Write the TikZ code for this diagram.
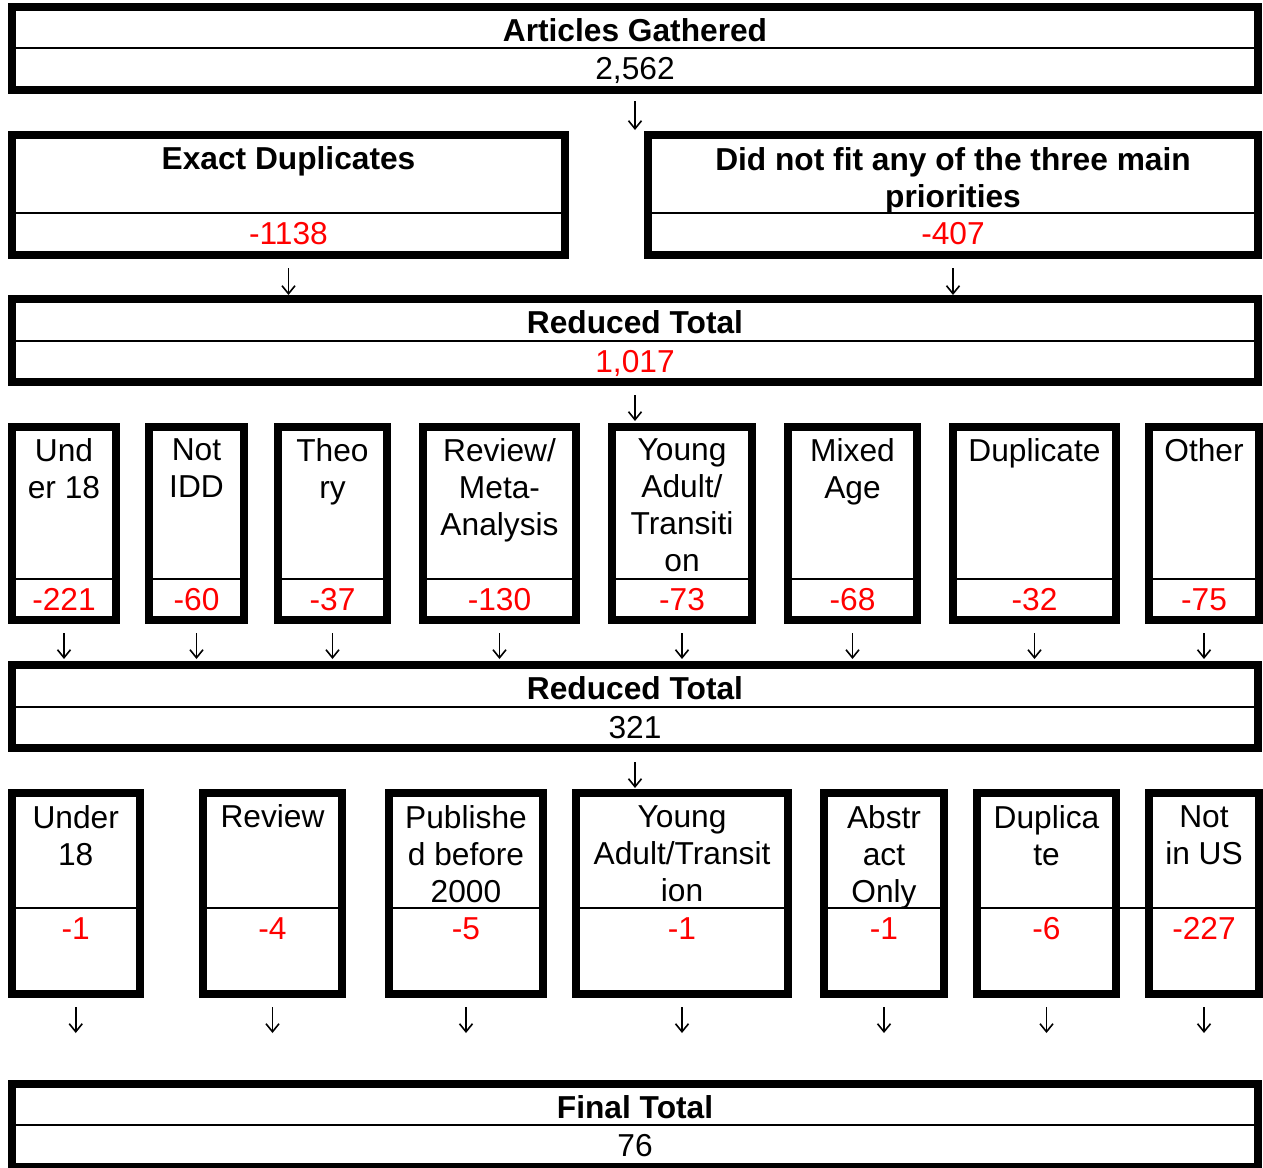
\documentclass[tikz,border=0pt]{standalone}
\usepackage{fontspec}
\setmainfont{Liberation Sans}
\usetikzlibrary{arrows.meta}
\tikzset{
    stage/.style ={
        shape=rectangle,
        draw=black,
        line width=8pt,
        inner sep=0pt
    },
    divide/.style ={
        draw=black,
        line width=1.8pt
    },
    head/.style ={
        anchor=north,
        yshift=25.9pt,
        align=center,
        inner sep=0pt,
        execute at begin node=\strut,
        font=\fontsize{31.7}{37}\selectfont
    },
    multi/.style ={
        head,
        yshift=-3.5pt
    },
    title/.style ={
        head,
        font=\fontsize{31.7}{37}\selectfont\bfseries
    },
    tally/.style ={
        anchor=base,
        inner sep=0pt,
        font=\fontsize{31.7}{37}\selectfont
    },
    loss/.style ={
        tally,
        text=red
    },
    flow/.style ={
        draw=black,
        line width=1.6pt,
        -{Straight Barb[length=8pt,width=13pt]}
    }
}
\begin{document}
\begin{tikzpicture}[x=1pt,y=-1pt]
    \useasboundingbox (0,0) rectangle (1263,1167);
    % totals and first cuts
    \node[stage, minimum width=1246, minimum height=83] (gath) at (635,48.5) {};
    \draw[divide] (gath.west |- 0,48) -- (gath.east |- 0,48);
    \node[title] at (635,41.5) {Articles Gathered};
    \node[tally] at (635,79.5) {2,562};

    \node[stage, minimum width=553, minimum height=120] (dup) at (288.5,195) {};
    \draw[divide] (dup.west |- 0,213) -- (dup.east |- 0,213);
    \node[title] at (288.5,169.5) {Exact Duplicates};
    \node[loss] at (288.5,244.5) {-1138};

    \node[stage, minimum width=610, minimum height=120] (prio) at (953,195) {};
    \draw[divide] (prio.west |- 0,213) -- (prio.east |- 0,213);
    \node[title, yshift=-3.5pt] at (953,169.5) {Did not fit any of the three main\\priorities};
    \node[loss] at (953,244.5) {-407};

    \node[stage, minimum width=1246, minimum height=83] (red1) at (635,340.5) {};
    \draw[divide] (red1.west |- 0,341) -- (red1.east |- 0,341);
    \node[title] at (635,333.5) {Reduced Total};
    \node[loss] at (635,372.5) {1,017};

    \draw[flow] ([yshift=-7pt]gath.south) -- ++(0,29);
    \draw[flow] ([yshift=-9pt]dup.south) -- (dup.south |- red1.north);
    \draw[flow] ([yshift=-9pt]prio.south) -- (prio.south |- red1.north);
    \draw[flow] ([yshift=-9pt]red1.south) -- ++(0,26);

    % second screening
    \foreach \n/\a/\b/\s/\t/\c in {u18/12/116/multi/{Und\\er 18}/-221, idd/149/244/multi/{Not\\IDD}/-60,
        theo/278/387/multi/{Theo\\ry}/-37, meta/423/576/multi/{Review/\\Meta-\\Analysis}/-130,
        ya/612/752/multi/{Young\\Adult/\\Transiti\\on}/-73, mixed/788/917/multi/{Mixed\\Age}/-68,
        dupl/953/1116/head/{Duplicate}/-32, other/1149/1259/head/{Other}/-75}{
        \node[stage, minimum width=\b-\a, minimum height=193] (\n) at ({(\a+\b)/2},523.5) {};
        \draw[divide] (\n.west |- 0,579) -- (\n.east |- 0,579);
        \node[\s] at ({(\a+\b)/2},461) {\t};
        \node[loss] at ({(\a+\b)/2},610.5) {\c};
        \draw[flow] ([yshift=-9pt]\n.south) -- ++(0,26);
    }

    \node[stage, minimum width=1246, minimum height=83] (red2) at (635,706.5) {};
    \draw[divide] (red2.west |- 0,707) -- (red2.east |- 0,707);
    \node[title] at (635,699.5) {Reduced Total};
    \node[tally] at (635,738.5) {321};
    \draw[flow] ([yshift=-10pt]red2.south) -- ++(0,26);

    % full text screening
    \foreach \n/\a/\b/\s/\t/\c in {s18/12/139.5/multi/{Under\\18}/-1, rev/203/342/head/{Review}/-4,
        pub/389/543/multi/{Publishe\\d before\\2000}/-5, ya2/576/788/multi/{Young\\Adult/Transit\\ion}/-1,
        abs/824/944/multi/{Abstr\\act\\Only}/-1, dup2/977/1116/multi/{Duplica\\te}/-6,
        us/1149/1259/multi/{Not\\in US}/-227}{
        \node[stage, minimum width=\b-\a, minimum height=201] (\n) at ({(\a+\b)/2},893.5) {};
        \draw[divide] (\n.west |- 0,908) -- (\n.east |- 0,908);
        \node[\s] at ({(\a+\b)/2},827.5) {\t};
        \node[loss] at ({(\a+\b)/2},939.5) {\c};
        \draw[flow] ([yshift=-9pt]\n.south) -- ++(0,26);
    }
    \draw[divide] (dup2.east |- 0,908) -- (us.west |- 0,908);

    \node[stage, minimum width=1246, minimum height=83] (fin) at (635,1125.5) {};
    \draw[divide] (fin.west |- 0,1125) -- (fin.east |- 0,1125);
    \node[title] at (635,1118.5) {Final Total};
    \node[tally] at (635,1156.5) {76};
\end{tikzpicture}
\end{document}
